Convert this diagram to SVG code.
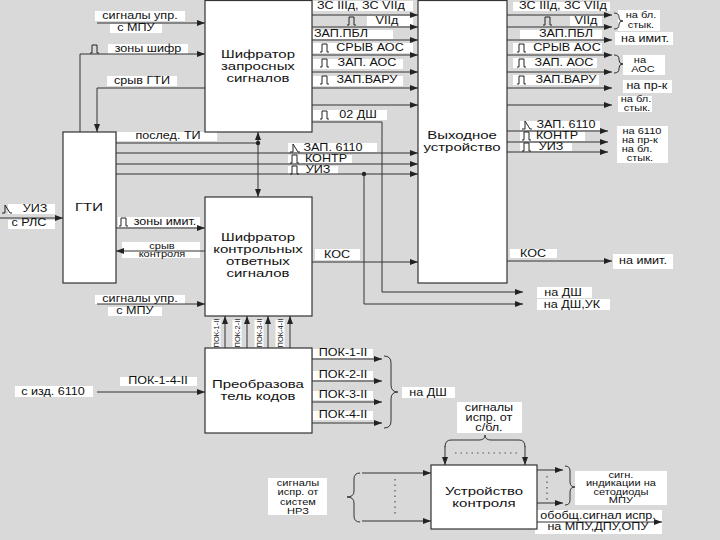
<svg xmlns="http://www.w3.org/2000/svg" xmlns:xlink="http://www.w3.org/1999/xlink" width="720" height="540" viewBox="0 0 720 540">
<style>
.bg{fill:#d9d9d9}
.bx{fill:#fff;stroke:#333;stroke-width:1.2}
.w{fill:#fff}
.c{fill:none;stroke:#333;stroke-width:1}
.ca{fill:none;stroke:#333;stroke-width:1;marker-end:url(#a)}
.d{fill:none;stroke:#555;stroke-width:1.2;stroke-dasharray:1.5 4}
.ic{fill:none;stroke:#222;stroke-width:1}
text{font-family:"Liberation Sans",Arial,sans-serif;fill:#111;text-anchor:middle}
.t{font-size:11px;transform-box:fill-box;transform-origin:center;transform:scaleX(1.36)}
.l{font-size:10px;transform-box:fill-box;transform-origin:center;transform:scaleX(1.26)}
.s{font-size:8.5px;transform-box:fill-box;transform-origin:center;transform:scaleX(1.3)}
.v{font-size:7.5px}
</style>
<defs>
<marker id="a" viewBox="0 0 8 6" refX="8" refY="3" markerWidth="8" markerHeight="6" orient="auto" markerUnits="userSpaceOnUse"><path d="M0,0L8,3L0,6z" fill="#222"/></marker>
<path id="p" class="ic" d="M0,4H2V-4H7V4H9"/>
<path id="k" class="ic" d="M0,4H3V-4L8,4H10"/>
</defs>
<rect class="bg" x="0" y="0" width="720" height="540"/>

<g id="label-backgrounds">
<rect class="w" x="95" y="11" width="90" height="10"/>
<rect class="w" x="110" y="24" width="52" height="9"/>
<rect class="w" x="108" y="44" width="80" height="10"/>
<rect class="w" x="107" y="76" width="70" height="10"/>
<rect class="w" x="117" y="132" width="100" height="9"/>
<rect class="w" x="288" y="143" width="89" height="9"/>
<rect class="w" x="288" y="155" width="64" height="8"/>
<rect class="w" x="288" y="166" width="50" height="8"/>
<rect class="w" x="8" y="204" width="47" height="10"/>
<rect class="w" x="8" y="220" width="47" height="9"/>
<rect class="w" x="118" y="217" width="82" height="10"/>
<rect class="w" x="122" y="242" width="78" height="16"/>
<rect class="w" x="95" y="295" width="90" height="9"/>
<rect class="w" x="108" y="307" width="54" height="9"/>
<rect class="w" x="15" y="386" width="78" height="11"/>
<rect class="w" x="120" y="377" width="77" height="9"/>
<rect class="w" x="313" y="1" width="100" height="10"/>
<rect class="w" x="367" y="16" width="46" height="10"/>
<rect class="w" x="313" y="30" width="80" height="9"/>
<rect class="w" x="313" y="43" width="100" height="10"/>
<rect class="w" x="313" y="59" width="90" height="10"/>
<rect class="w" x="313" y="76" width="90" height="10"/>
<rect class="w" x="313" y="110" width="74" height="10"/>
<rect class="w" x="513" y="2" width="97" height="9"/>
<rect class="w" x="570" y="16" width="32" height="10"/>
<rect class="w" x="520" y="30" width="82" height="9"/>
<rect class="w" x="513" y="43" width="89" height="10"/>
<rect class="w" x="513" y="58" width="84" height="10"/>
<rect class="w" x="513" y="75" width="86" height="10"/>
<rect class="w" x="520" y="121" width="80" height="9"/>
<rect class="w" x="520" y="132" width="65" height="9"/>
<rect class="w" x="520" y="143" width="52" height="8"/>
<rect class="w" x="315" y="249" width="45" height="11"/>
<rect class="w" x="510" y="249" width="47" height="9"/>
<rect class="w" x="618" y="10" width="42" height="21"/>
<rect class="w" x="615" y="32" width="58" height="13"/>
<rect class="w" x="623" y="55" width="42" height="20"/>
<rect class="w" x="623" y="80" width="49" height="13"/>
<rect class="w" x="618" y="96" width="34" height="16"/>
<rect class="w" x="617" y="126" width="51" height="37"/>
<rect class="w" x="613" y="254" width="60" height="15"/>
<rect class="w" x="537" y="287" width="55" height="11"/>
<rect class="w" x="537" y="299" width="73" height="11"/>
<rect class="w" x="211.5" y="320" width="9" height="27"/>
<rect class="w" x="232.5" y="320" width="9" height="27"/>
<rect class="w" x="254.5" y="320" width="9" height="27"/>
<rect class="w" x="275.5" y="320" width="9" height="27"/>
<rect class="w" x="313" y="349" width="60" height="9"/>
<rect class="w" x="313" y="371" width="60" height="9"/>
<rect class="w" x="313" y="391" width="60" height="9"/>
<rect class="w" x="313" y="411" width="60" height="9"/>
<rect class="w" x="402" y="387" width="53" height="11"/>
<rect class="w" x="457" y="402" width="65" height="31"/>
<rect class="w" x="575" y="471" width="92" height="34"/>
<rect class="w" x="535" y="510" width="127" height="24"/>
<rect class="w" x="268" y="478" width="59" height="37"/>
</g>

<g id="connectors">
<path class="ca" d="M97,23H205"/>
<path class="ca" d="M80,132V54H205"/>
<path class="ca" d="M205,88H97V132"/>
<path class="c" d="M116,143H258"/>
<path class="ca" d="M258,160V132"/>
<path class="ca" d="M258,160V197"/>
<circle cx="258" cy="143" r="2.2" fill="#222"/>
<path class="ca" d="M116,153H418"/>
<path class="ca" d="M116,164H418"/>
<path class="ca" d="M116,174H418"/>
<circle cx="364" cy="174" r="2.2" fill="#222"/>
<path class="ca" d="M364,174V304H523"/>
<path class="ca" d="M312,122H382V292H523"/>
<path class="ca" d="M0,218H63"/>
<path class="ca" d="M116,228H205"/>
<path class="ca" d="M205,251H116"/>
<path class="ca" d="M97,304H205"/>
<path class="ca" d="M97,392H205"/>
<path class="ca" d="M312,262H418"/>
<path class="ca" d="M507,261H612"/>
<path class="ca" d="M312,15H418"/>
<path class="ca" d="M312,27H418"/>
<path class="ca" d="M312,40H418"/>
<path class="ca" d="M312,55H418"/>
<path class="ca" d="M312,72H418"/>
<path class="ca" d="M312,88H418"/>
<path class="ca" d="M312,105H418"/>
<path class="ca" d="M507,15H612"/>
<path class="ca" d="M507,27H612"/>
<path class="ca" d="M507,40H612"/>
<path class="ca" d="M507,55H612"/>
<path class="ca" d="M507,72H612"/>
<path class="ca" d="M507,88H612"/>
<path class="ca" d="M507,105H612"/>
<path class="ca" d="M507,131H608"/>
<path class="ca" d="M507,142H608"/>
<path class="ca" d="M507,152H608"/>
<path class="ca" d="M225,348V316"/>
<path class="ca" d="M247,348V316"/>
<path class="ca" d="M268,348V316"/>
<path class="ca" d="M290,348V316"/>
<path class="ca" d="M312,359H382"/>
<path class="ca" d="M312,381H382"/>
<path class="ca" d="M312,402H382"/>
<path class="ca" d="M312,423H382"/>
<path class="c" d="M614,13Q619,13 619,17V18Q619,21 623,21Q619,21 619,24V25Q619,29 614,29"/>
<path class="c" d="M614,55Q619,55 619,59V60Q619,64 623,64Q619,64 619,68V69Q619,73 614,73"/>
<path class="c" d="M384,356Q391,356 391,363V385Q391,392 398,392Q391,392 391,399V421Q391,428 384,428"/>
<path class="c" d="M445,447Q445,440 451,440H479Q485,440 485,435Q485,440 491,440H519Q525,440 525,447"/>
<path class="ca" d="M445,446V465"/>
<path class="ca" d="M525,446V465"/>
<path class="d" d="M455,453H520"/>
<path class="ca" d="M537,470H563"/>
<path class="ca" d="M537,503H563"/>
<path class="d" d="M547,476V500"/>
<path class="c" d="M565,466Q570,466 570,471V482Q570,487 575,487Q570,487 570,492V500Q570,505 565,505"/>
<path class="ca" d="M537,522H662"/>
<path class="ca" d="M362,473H431"/>
<path class="ca" d="M362,521H431"/>
<path class="d" d="M395,479V516"/>
<path class="c" d="M360,473Q354,473 354,479V491Q354,497 347,497Q354,497 354,503V516Q354,522 360,522"/>
</g>

<g id="icons">
<use xlink:href="#p" x="90" y="49"/>
<use xlink:href="#k" x="290" y="148"/>
<use xlink:href="#p" x="290" y="159"/>
<use xlink:href="#p" x="290" y="170"/>
<use xlink:href="#k" x="2" y="209"/>
<use xlink:href="#p" x="119" y="222"/>
<use xlink:href="#p" x="347" y="21"/>
<use xlink:href="#p" x="320" y="48"/>
<use xlink:href="#p" x="320" y="63"/>
<use xlink:href="#p" x="320" y="80"/>
<use xlink:href="#p" x="320" y="115"/>
<use xlink:href="#p" x="543" y="21"/>
<use xlink:href="#p" x="517" y="48"/>
<use xlink:href="#p" x="517" y="63"/>
<use xlink:href="#p" x="517" y="80"/>
<use xlink:href="#k" x="522" y="125"/>
<use xlink:href="#p" x="522" y="136"/>
<use xlink:href="#p" x="522" y="147"/>
</g>

<g id="node-shifr-zapr">
<rect class="bx" x="205" y="0.5" width="107" height="131.5"/>
<text class="t" x="258" y="58">Шифратор</text>
<text class="t" x="258" y="70">запросных</text>
<text class="t" x="258" y="82">сигналов</text>
</g>
<g id="node-vyhod">
<rect class="bx" x="418" y="0.5" width="89" height="282.5"/>
<text class="t" x="462" y="139">Выходное</text>
<text class="t" x="462" y="151">устройство</text>
</g>
<g id="node-gti">
<rect class="bx" x="63" y="132" width="53" height="151"/>
<text class="t" x="89" y="211">ГТИ</text>
</g>
<g id="node-shifr-kontr">
<rect class="bx" x="205" y="197" width="107" height="119"/>
<text class="t" x="258" y="241">Шифратор</text>
<text class="t" x="258" y="253">контрольных</text>
<text class="t" x="258" y="265">ответных</text>
<text class="t" x="258" y="277">сигналов</text>
</g>
<g id="node-preobr">
<rect class="bx" x="205" y="348" width="107" height="85"/>
<text class="t" x="258" y="388">Преобразова</text>
<text class="t" x="258" y="400">тель кодов</text>
</g>
<g id="node-kontrol">
<rect class="bx" x="431" y="465" width="106" height="64"/>
<text class="t" x="484" y="495">Устройство</text>
<text class="t" x="484" y="507">контроля</text>
</g>

<g id="labels">
<text class="l" x="140" y="19.5">сигналы упр.</text>
<text class="l" x="136" y="31.5">с МПУ</text>
<text class="l" x="148" y="52.5">зоны шифр</text>
<text class="l" x="142" y="84">срыв ГТИ</text>
<text class="l" x="168" y="139.5">послед. ТИ</text>
<text class="l" x="333" y="151.5">ЗАП. 6110</text>
<text class="l" x="326" y="162.5">КОНТР</text>
<text class="l" x="318" y="173.5">УИЗ</text>
<text class="l" x="35" y="212.5">УИЗ</text>
<text class="l" x="29" y="226.5">с РЛС</text>
<text class="l" x="165" y="225.5">зоны имит.</text>
<text class="s" x="162" y="249">срыв</text>
<text class="s" x="162" y="257.5">контроля</text>
<text class="l" x="140" y="302.5">сигналы упр.</text>
<text class="l" x="135" y="314.5">с МПУ</text>
<text class="l" x="53" y="395.5">с изд. 6110</text>
<text class="l" x="158" y="384.5">ПОК-1-4-II</text>
<text class="l" x="361" y="9.5">ЗС IIIд, ЗС VIIд</text>
<text class="l" x="387" y="24.5">VIIд</text>
<text class="l" x="341" y="37.5">ЗАП.ПБЛ</text>
<text class="l" x="370" y="51.5">СРЫВ АОС</text>
<text class="l" x="367" y="66.5">ЗАП. АОС</text>
<text class="l" x="367" y="83.5">ЗАП.ВАРУ</text>
<text class="l" x="358" y="118.5">02 ДШ</text>
<text class="l" x="563" y="9.5">ЗС IIIд, ЗС VIIд</text>
<text class="l" x="586" y="24.5">VIIд</text>
<text class="l" x="566" y="37.5">ЗАП.ПБЛ</text>
<text class="l" x="567" y="51.5">СРЫВ АОС</text>
<text class="l" x="564" y="66.5">ЗАП. АОС</text>
<text class="l" x="566" y="83.5">ЗАП.ВАРУ</text>
<text class="l" x="566" y="128.5">ЗАП. 6110</text>
<text class="l" x="557" y="139.5">КОНТР</text>
<text class="l" x="551" y="150.5">УИЗ</text>
<text class="l" x="337" y="258">КОС</text>
<text class="l" x="533" y="257">КОС</text>
<text class="s" x="641" y="18">на бл.</text>
<text class="s" x="641" y="28">стык.</text>
<text class="l" x="645" y="42.5">на имит.</text>
<text class="s" x="640" y="63">на</text>
<text class="s" x="643" y="72.5">АОС</text>
<text class="l" x="647" y="89.5">на пр-к</text>
<text class="s" x="636" y="102">на бл.</text>
<text class="s" x="637" y="111">стык.</text>
<text class="s" x="642" y="134">на 6110</text>
<text class="s" x="640" y="143.5">на пр-к</text>
<text class="s" x="637" y="152.5">на бл.</text>
<text class="s" x="640" y="161.5">стык.</text>
<text class="l" x="643" y="264.5">на имит.</text>
<text class="l" x="563" y="296">на ДШ</text>
<text class="l" x="572" y="308">на ДШ,УК</text>
<text class="v" transform="translate(218.6,333) rotate(-90)">ПОК-1-II</text>
<text class="v" transform="translate(239.6,333) rotate(-90)">ПОК-2-II</text>
<text class="v" transform="translate(261.6,333) rotate(-90)">ПОК-3-II</text>
<text class="v" transform="translate(282.6,333) rotate(-90)">ПОК-4-II</text>
<text class="l" x="343" y="356.5">ПОК-1-II</text>
<text class="l" x="343" y="378.5">ПОК-2-II</text>
<text class="l" x="343" y="398.5">ПОК-3-II</text>
<text class="l" x="343" y="418.5">ПОК-4-II</text>
<text class="l" x="428" y="396">на ДШ</text>
<text class="l" x="489" y="411.5">сигналы</text>
<text class="l" x="489" y="421.5">испр. от</text>
<text class="l" x="489" y="431.5">с/бл.</text>
<text class="s" x="621" y="478">сигн.</text>
<text class="s" x="621" y="486.5">индикации на</text>
<text class="s" x="621" y="495">сетодиоды</text>
<text class="s" x="621" y="503.5">МПУ</text>
<text class="l" x="598" y="519">обобщ.сигнал испр.</text>
<text class="l" x="598" y="530">на МПУ,ДПУ,ОПУ</text>
<text class="s" x="298" y="486">сигналы</text>
<text class="s" x="298" y="495.5">испр. от</text>
<text class="s" x="298" y="505">систем</text>
<text class="s" x="298" y="514.5">НРЗ</text>
</g>
</svg>
